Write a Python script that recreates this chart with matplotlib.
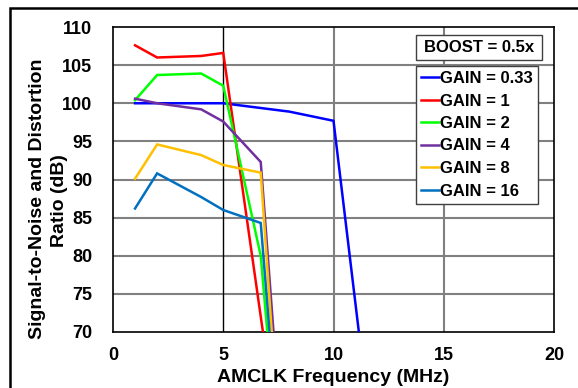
import matplotlib
matplotlib.use("Agg")
import matplotlib.pyplot as plt
from matplotlib.patches import Rectangle

plt.rcParams['font.family'] = ['Liberation Sans', 'DejaVu Sans']
plt.rcParams['font.weight'] = 'bold'

# Data
x_g033 = [1, 2, 4, 5, 8, 10, 11.15]
y_g033 = [100.0, 100.0, 100.0, 100.0, 98.9, 97.7, 70.0]
x_g1 = [1, 2, 4, 5, 6.8]
y_g1 = [107.6, 106.0, 106.2, 106.6, 70.0]
x_g2 = [1, 2, 4, 5, 6.7, 7.0]
y_g2 = [100.4, 103.7, 103.9, 102.3, 80.0, 70.0]
x_g4 = [1, 2, 4, 5, 6.7, 7.28]
y_g4 = [100.6, 100.0, 99.2, 97.6, 92.3, 70.0]
x_g8 = [1, 2, 4, 5, 6.7, 7.2]
y_g8 = [90.1, 94.6, 93.2, 91.9, 90.9, 70.0]
x_g16 = [1, 2, 4, 5, 6.7, 7.1]
y_g16 = [86.2, 90.8, 87.7, 86.0, 84.3, 70.0]

labels = ["GAIN = 0.33", "GAIN = 1", "GAIN = 2", "GAIN = 4", "GAIN = 8", "GAIN = 16"]
colors = ["#0000FF", "#FF0000", "#00FF00", "#7030A0", "#FFC000", "#0070C0"]
xticks = [0, 5, 10, 15, 20]
yticks = [70, 75, 80, 85, 90, 95, 100, 105, 110]

W, H = 578, 388
fig = plt.figure(figsize=(W / 100, H / 100), dpi=100)
ax = fig.add_axes([113 / W, 1 - 332 / H, (554 - 113) / W, (332 - 27) / H])

# figure border (only top and left visible)
fig.add_artist(Rectangle((10 / W, -0.1), 1.2, (H - 8) / H + 0.1, transform=fig.transFigure,
                         fill=False, edgecolor='black', linewidth=1.8, clip_on=False))

series = [(x_g033, y_g033), (x_g1, y_g1), (x_g2, y_g2), (x_g4, y_g4), (x_g8, y_g8), (x_g16, y_g16)]
for (xs, ys), c, lab in zip(series, colors, labels):
    ax.plot(xs, ys, color=c, linewidth=1.8, label=lab, solid_joinstyle='miter', zorder=3)

ax.set_xlim(0, 20)
ax.set_ylim(70, 110)
ax.set_xticks(xticks)
ax.set_yticks(yticks)
ax.tick_params(axis='both', length=0, labelsize=13)
ax.tick_params(axis='y', pad=15)
ax.tick_params(axis='x', pad=11)
for t in ax.get_xticklabels() + ax.get_yticklabels():
    t.set_fontweight('bold')

for yv in yticks[1:-1]:
    ax.axhline(yv, color='#808080', linewidth=1.5, zorder=1)
for xv in xticks[1:-1]:
    ax.axvline(xv, color='black' if xv == 5 else '#808080', linewidth=1.0 if xv == 5 else 1.5, zorder=1)

for s in ax.spines.values():
    s.set_linewidth(1.2)
    s.set_color('black')

fig.text(333.5 / W, 1 - 377 / H, "AMCLK Frequency (MHz)", ha='center', va='center',
         fontsize=14, fontweight='bold')
fig.text(37.5 / W, 1 - 199 / H, "Signal-to-Noise and Distortion", ha='center', va='center',
         rotation=90, fontsize=14, fontweight='bold')
fig.text(59.5 / W, 1 - 201 / H, "Ratio (dB)", ha='center', va='center',
         rotation=90, fontsize=14, fontweight='bold')

# BOOST box
fig.text((416 + 542) / 2 / W, 1 - 47.5 / H, "BOOST = 0.5x", ha='center', va='center',
         fontsize=12, fontweight='bold', zorder=5)
fig.add_artist(Rectangle((416 / W, 1 - 60 / H), (542 - 416) / W, 25 / H, transform=fig.transFigure,
                         fill=True, facecolor='white', edgecolor='#404040', linewidth=1.0, zorder=4))

leg = ax.legend(loc='upper left', bbox_to_anchor=(416 / W, 1 - 66 / H), bbox_transform=fig.transFigure,
                fontsize=12, frameon=True, fancybox=False, edgecolor='#404040', framealpha=1,
                handlelength=1.08, handletextpad=0.05, labelspacing=0.45, borderpad=0.3,
                borderaxespad=0)
leg.get_frame().set_linewidth(1.0)
for t in leg.get_texts():
    t.set_fontweight('bold')
for l in leg.get_lines():
    l.set_linewidth(1.8)

fig.savefig("out.png", dpi=100)
